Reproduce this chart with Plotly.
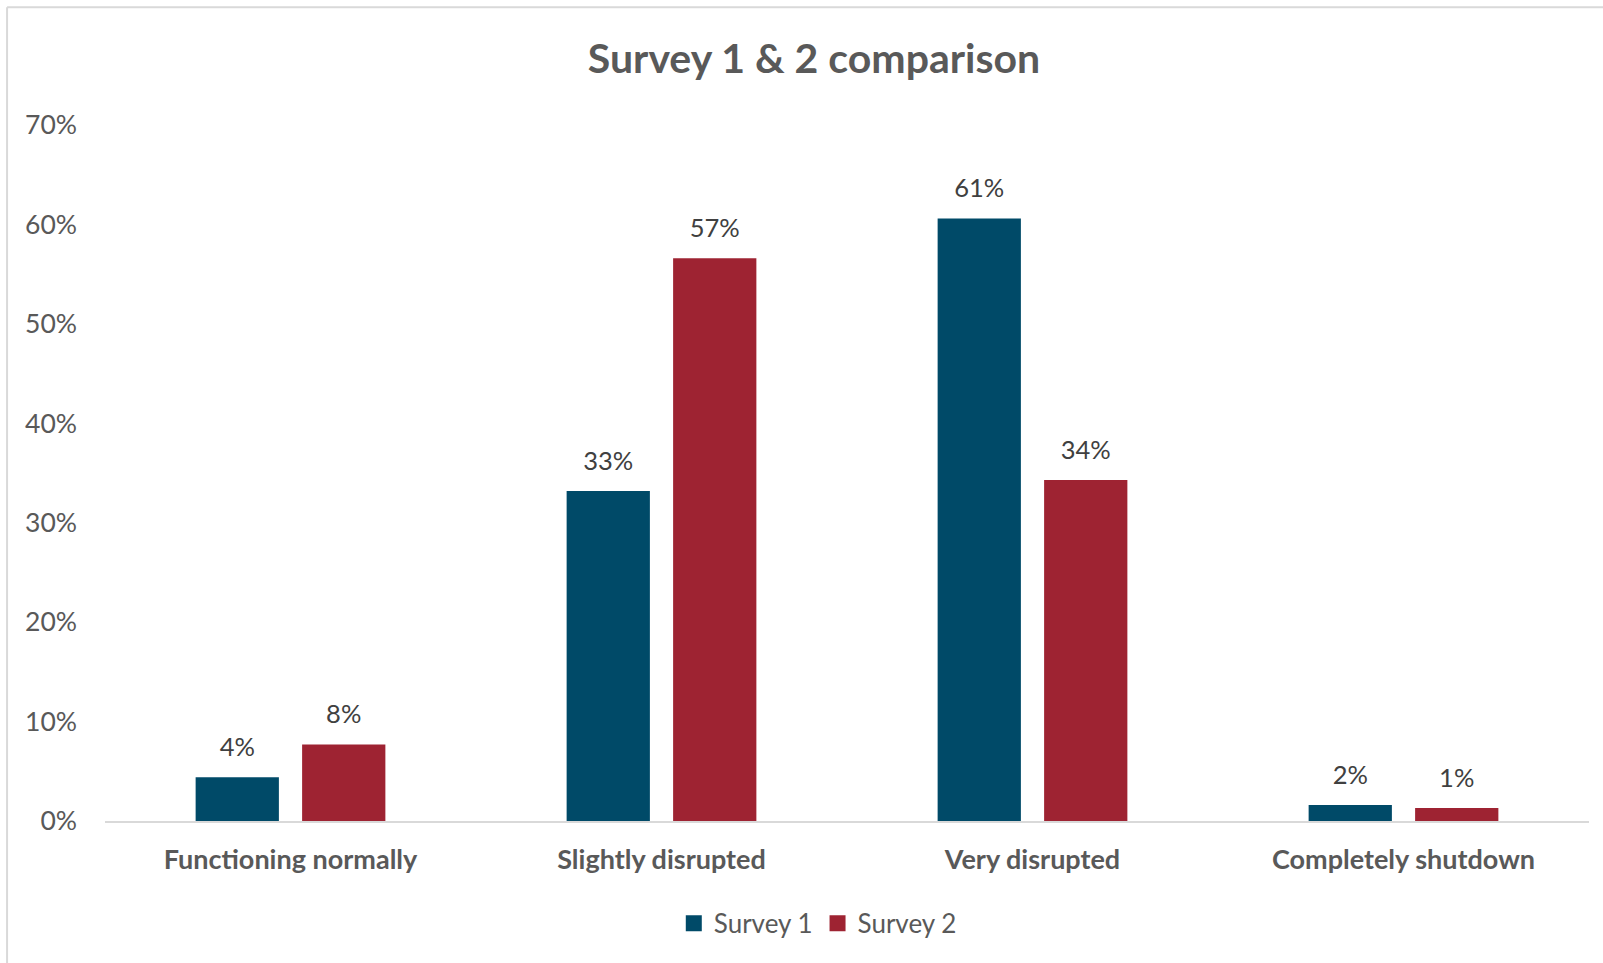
import plotly.graph_objects as go

# Survey responses, share of respondents per status
categories = ["Functioning normally", "Slightly disrupted", "Very disrupted", "Completely shutdown"]
survey_1 = [0.044, 0.332, 0.606, 0.016]
survey_2 = [0.077, 0.566, 0.343, 0.013]
series_names = ["Survey 1", "Survey 2"]
y_ticks = [0, 0.1, 0.2, 0.3, 0.4, 0.5, 0.6, 0.7]

COLORS = ["#004A68", "#9E2332"]
FONT = "Lato"
GREY = "#595959"
DARK = "#404040"

W, H = 1603, 963
ML, MR, MT, MB = 105.4, 14, 124.5, 141.5
PW, PH = W - ML - MR, H - MT - MB

BARGAP = 0.426
GROUPGAP = 0.218

fig = go.Figure()
for name, vals, col in zip(series_names, [survey_1, survey_2], COLORS):
    fig.add_trace(go.Bar(
        x=categories, y=vals, name=name, legendgroup=name,
        marker=dict(color=col, line=dict(width=0)),
        showlegend=False, hoverinfo="skip",
    ))

# value labels sitting above each bar, grouped like the bars
for name, vals in zip(series_names, [survey_1, survey_2]):
    fig.add_trace(go.Scatter(
        x=categories, y=vals, mode="markers+text",
        text=[f"{v:.0%}" for v in vals],
        textposition="top center",
        textfont=dict(family=FONT, size=25.5, color=DARK),
        marker=dict(size=22, opacity=0),
        showlegend=False, hoverinfo="skip", cliponaxis=False,
    ))

# legend keys drawn as larger squares, kept on a hidden overlay axis pair
for name, col in zip(series_names, COLORS):
    fig.add_trace(go.Scatter(
        x=[None], y=[None], mode="markers", name=name, legendgroup=name,
        xaxis="x2", yaxis="y2",
        marker=dict(symbol="square", size=16, color=col, line=dict(width=0)),
        showlegend=True, hoverinfo="skip",
    ))


def px_x(p):
    return (p - ML) / PW


def px_y(p):
    return (H - MB - p) / PH


border = dict(color="#D9D9D9", width=2)
shapes = [
    dict(type="line", xref="paper", yref="paper",
         x0=px_x(7.5), x1=px_x(W + 2), y0=px_y(6.5), y1=px_y(6.5), line=border),
    dict(type="line", xref="paper", yref="paper",
         x0=px_x(7.5), x1=px_x(7.5), y0=px_y(6.5), y1=px_y(H + 2), line=border),
]

fig.update_layout(
    width=W, height=H,
    margin=dict(l=ML, r=MR, t=MT, b=MB, pad=0),
    paper_bgcolor="white", plot_bgcolor="white",
    barmode="group", bargap=BARGAP, bargroupgap=GROUPGAP,
    scattermode="group", scattergap=BARGAP,
    title=dict(
        text="<b>Survey 1 & 2 comparison</b>",
        font=dict(family=FONT, size=41, color=GREY),
        x=814 / W, xanchor="center", xref="container",
        y=1 - 59 / H, yanchor="middle", yref="container",
    ),
    xaxis=dict(
        showgrid=False, showline=True, linecolor="#D9D9D9", linewidth=2.3,
        ticks="", ticklabelstandoff=13,
        tickfont=dict(family=FONT, size=27, color=GREY, weight="bold"),
        fixedrange=True,
    ),
    yaxis=dict(
        range=[0, 0.7], tickvals=y_ticks, tickformat=".0%",
        showgrid=False, zeroline=False, showline=False,
        ticks="", ticklabelstandoff=27,
        tickfont=dict(family=FONT, size=26.5, color=GREY),
        fixedrange=True,
    ),
    xaxis2=dict(overlaying="x", visible=False, fixedrange=True),
    yaxis2=dict(overlaying="y", visible=False, fixedrange=True),
    legend=dict(
        orientation="h", x=px_x(818), xanchor="center",
        y=px_y(924), yanchor="middle",
        font=dict(family=FONT, size=26, color=GREY),
        itemwidth=30,
        itemclick=False, itemdoubleclick=False,
    ),
    shapes=shapes,
    showlegend=True,
)

fig.write_html("out.html", config={"displayModeBar": False})
